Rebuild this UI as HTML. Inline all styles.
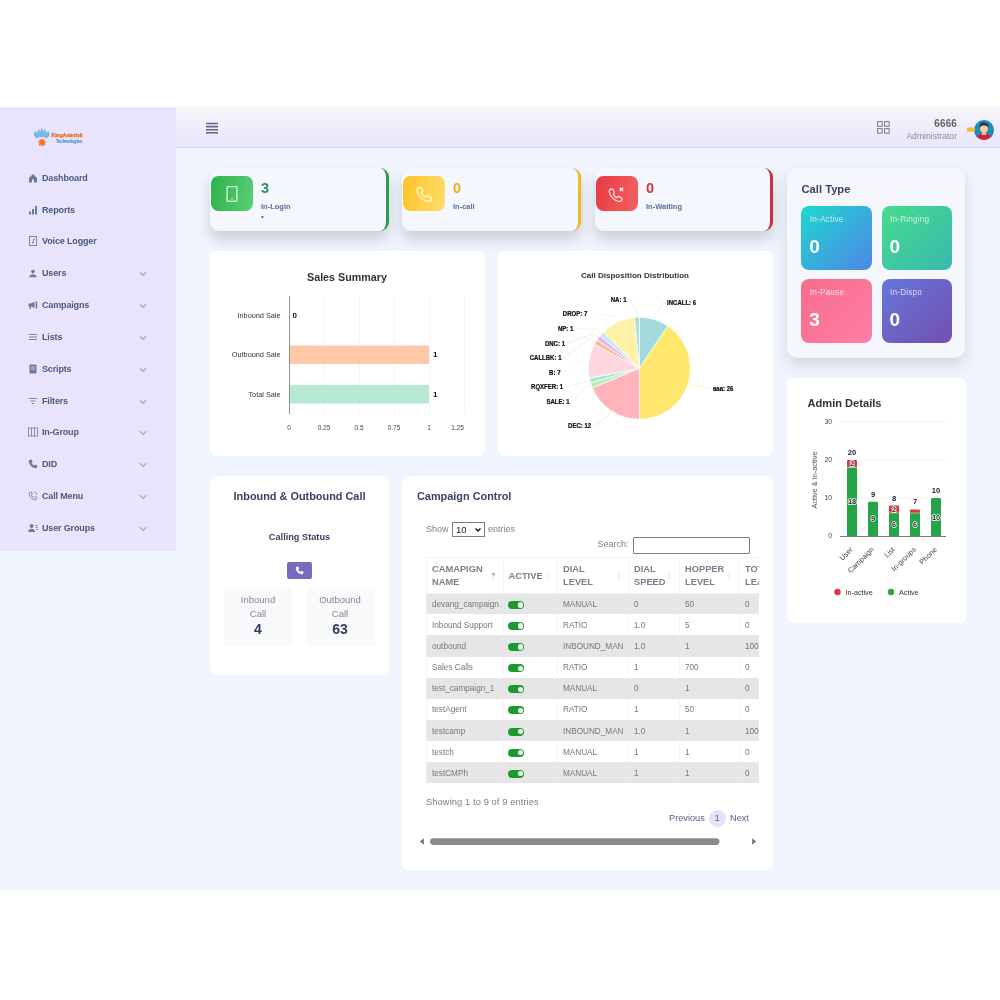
<!DOCTYPE html>
<html lang="en">
<head>
<meta charset="utf-8">
<title>Dashboard</title>
<style>
*{box-sizing:border-box;margin:0;padding:0}
html,body{width:1000px;height:1000px;background:#fff;overflow:hidden}
body{font-family:"Liberation Sans",sans-serif;color:#4a5578;position:relative}
#app{position:absolute;left:0;top:107px;width:1000px;height:784px;background:#f1f5fe;overflow:hidden}
.t{position:absolute;white-space:nowrap;line-height:1}
#side{position:absolute;left:0;top:0;width:176px;height:443.5px;background:#e9e4fe}
#hdr{position:absolute;left:176px;top:0;width:824px;height:41px;background:linear-gradient(#f6f5fb,#e9e5fc);border-bottom:1px solid #dcd9ee}
.mi{position:absolute;left:0;width:176px;height:14px;font-size:9px;line-height:14px;font-weight:bold;color:#4d587c;letter-spacing:-0.15px}
.mi span{position:absolute;left:42px;top:0;white-space:nowrap}
.mi svg.ic{position:absolute;left:28px;top:2px;width:10px;height:10px}
.mi svg.ch{position:absolute;left:138.5px;top:4.6px;width:8px;height:5.7px}
.card{position:absolute;background:#fff;border-radius:6px}
.stat{position:absolute;top:61px;height:63px;width:179px;background:#f4f7fe;border-radius:9px;box-shadow:0 9px 14px rgba(115,122,140,.3)}
.stat .ib{position:absolute;left:1px;top:8px;width:42px;height:35px;border-radius:7.5px}
.stat .ib svg{position:absolute;left:12.5px;top:9.5px;width:17px;height:17px}
.stat .n{position:absolute;left:51px;top:12px;font-size:14.5px;line-height:16px;font-weight:bold}
.stat .l{position:absolute;left:51px;top:33.6px;font-size:7.5px;line-height:10px;font-weight:bold;color:#5b6b9c;white-space:nowrap}
.tile{position:absolute;width:70.5px;height:64px;border-radius:8px;color:#fff}
.tile .tl{position:absolute;left:8.5px;top:9px;font-size:8.2px;line-height:10px;white-space:nowrap;opacity:.75;letter-spacing:0.2px}
.tile .tn{position:absolute;left:8px;top:30.5px;font-size:19px;line-height:20px;font-weight:bold}
svg{overflow:visible}
svg text{font-family:"Liberation Sans",sans-serif}
.ttl{position:absolute;white-space:nowrap;font-weight:bold;font-size:10.9px;line-height:14px;color:#3a4264}
table.dt{position:absolute;left:0;top:0;border-collapse:collapse;font-size:8.2px;color:#777;table-layout:fixed;width:372px}
table.dt th{height:35.7px;text-align:left;font-weight:bold;color:#7b7f8b;font-size:9.3px;line-height:13px;padding:1.4px 5px 0 5px;border:1px solid #f3f3f6;background:#fff;position:relative;vertical-align:middle;letter-spacing:0}
table.dt td{height:21.12px;padding:2.6px 5px 0 5px;border-left:1px solid #f4f4f6;border-right:1px solid #f4f4f6;white-space:nowrap;overflow:hidden}
table.dt tr.o td{background:#e6e6e7;border-color:#eaeaeb}
table.dt tr.e td{background:#fff}
.tg{display:inline-block;width:16px;height:8px;border-radius:4px;background:#1c9a30;position:relative;vertical-align:middle;margin-left:-0.5px}
.tg i{position:absolute;right:0.8px;top:1.4px;width:5.2px;height:5.2px;border-radius:3px;background:#fff}
.srt{position:absolute;right:7px;top:12.5px;width:5px;height:10px}
</style>
</head>
<body>
<div id="app">
<div id="side">
<svg class="t" style="left:32px;top:18px" width="54" height="24" viewBox="0 0 54 24">
<path d="M1.6 9.5 L3 5.8 L5 8 L6.6 3.6 L8.2 7 L9.8 2 L11.4 7 L13 3.6 L14.6 8 L16.4 5.8 L17.6 9.5 C17 11.6 15.6 13 14 13.4 C12 11.6 7.4 11.6 5.4 13.4 C3.6 13 2.2 11.6 1.6 9.5 Z" fill="#7ab8e4"/>
<path d="M10 13.6 V21.2 M6.2 17.4 H13.8 M7.3 14.7 L12.7 20.1 M12.7 14.7 L7.3 20.1" stroke="#f36f1c" stroke-width="1.5" fill="none"/>
<text x="19.6" y="12.3" font-size="5.6" font-weight="bold" fill="#e36d14" stroke="#e36d14" stroke-width="0.25" textLength="31" lengthAdjust="spacingAndGlyphs">KingAsterisk</text>
<text x="24" y="17.6" font-size="4.6" font-weight="bold" fill="#4a8fc6" stroke="#4a8fc6" stroke-width="0.15" textLength="26.4" lengthAdjust="spacingAndGlyphs">Technologies</text>
</svg>
<div class="mi" style="top:64.0px"><svg class="ic" viewBox="0 0 10 10"><path d="M1 5 L5 1 L9 5 V9.5 H6 V6.5 H4 V9.5 H1 Z" fill="#6d7aa3"/></svg><span>Dashboard</span></div>
<div class="mi" style="top:96.0px"><svg class="ic" viewBox="0 0 10 10"><rect x="1" y="6.5" width="2" height="3" fill="#6d7aa3"/><rect x="4" y="4" width="2" height="5.5" fill="#6d7aa3"/><rect x="7" y="1" width="2" height="8.5" fill="#6d7aa3"/></svg><span>Reports</span></div>
<div class="mi" style="top:127.0px"><svg class="ic" viewBox="0 0 10 10"><rect x="1.5" y="0.5" width="7" height="9" fill="none" stroke="#6d7aa3" stroke-width="0.9"/><path d="M5.5 3 V6.5 M5.5 3 L6.8 3.6" stroke="#6d7aa3" stroke-width="0.8" fill="none"/><circle cx="4.7" cy="6.6" r="0.9" fill="#6d7aa3"/></svg><span>Voice Logger</span></div>
<div class="mi" style="top:159.0px"><svg class="ic" viewBox="0 0 10 10"><circle cx="5" cy="3.6" r="1.8" fill="#6d7aa3"/><path d="M1.4 9.2 C1.4 7 3.2 6.2 5 6.2 C6.8 6.2 8.6 7 8.6 9.2 Z" fill="#6d7aa3"/></svg><span>Users</span><svg class="ch" viewBox="0 0 7 5"><path d="M0.8 1 L3.5 3.8 L6.2 1" fill="none" stroke="#a5a4c6" stroke-width="1.05"/></svg></div>
<div class="mi" style="top:191.0px"><svg class="ic" viewBox="0 0 10 10"><path d="M0.5 3.5 H3 L6.5 1.5 V8 L3 6.5 H0.5 Z" fill="#6d7aa3"/><rect x="7.6" y="1.5" width="1.6" height="7" fill="#6d7aa3"/><rect x="1.5" y="6.5" width="1.5" height="2.5" fill="#6d7aa3"/></svg><span>Campaigns</span><svg class="ch" viewBox="0 0 7 5"><path d="M0.8 1 L3.5 3.8 L6.2 1" fill="none" stroke="#a5a4c6" stroke-width="1.05"/></svg></div>
<div class="mi" style="top:223.0px"><svg class="ic" viewBox="0 0 10 10"><path d="M1 2.5 H9 M1 5 H9 M1 7.5 H9" stroke="#6d7aa3" stroke-width="0.9"/></svg><span>Lists</span><svg class="ch" viewBox="0 0 7 5"><path d="M0.8 1 L3.5 3.8 L6.2 1" fill="none" stroke="#a5a4c6" stroke-width="1.05"/></svg></div>
<div class="mi" style="top:255.0px"><svg class="ic" viewBox="0 0 10 10"><rect x="1.5" y="0.5" width="7" height="9" rx="1" fill="#6d7aa3"/><path d="M3 3 H7 M3 5 H7" stroke="#e9e4fe" stroke-width="0.8"/></svg><span>Scripts</span><svg class="ch" viewBox="0 0 7 5"><path d="M0.8 1 L3.5 3.8 L6.2 1" fill="none" stroke="#a5a4c6" stroke-width="1.05"/></svg></div>
<div class="mi" style="top:287.0px"><svg class="ic" viewBox="0 0 10 10"><path d="M1 2.5 H9 M2.5 5 H7.5 M4 7.5 H6" stroke="#6d7aa3" stroke-width="0.9"/></svg><span>Filters</span><svg class="ch" viewBox="0 0 7 5"><path d="M0.8 1 L3.5 3.8 L6.2 1" fill="none" stroke="#a5a4c6" stroke-width="1.05"/></svg></div>
<div class="mi" style="top:318.0px"><svg class="ic" viewBox="0 0 10 10"><rect x="0.5" y="1" width="9" height="8" fill="none" stroke="#6d7aa3" stroke-width="0.8"/><path d="M3.5 1 V9 M6.5 1 V9" stroke="#6d7aa3" stroke-width="0.8"/></svg><span>In-Group</span><svg class="ch" viewBox="0 0 7 5"><path d="M0.8 1 L3.5 3.8 L6.2 1" fill="none" stroke="#a5a4c6" stroke-width="1.05"/></svg></div>
<div class="mi" style="top:350.0px"><svg class="ic" viewBox="0 0 10 10"><path d="M2.2 0.8 L3.8 0.6 L4.6 3 L3.5 3.8 C4 5 5 6 6.2 6.5 L7 5.4 L9.4 6.2 L9.2 7.8 C9 8.8 8.2 9.4 7.2 9.2 C3.8 8.6 1.4 6.2 0.8 2.8 C0.6 1.8 1.2 1 2.2 0.8 Z" fill="#6d7aa3"/></svg><span>DID</span><svg class="ch" viewBox="0 0 7 5"><path d="M0.8 1 L3.5 3.8 L6.2 1" fill="none" stroke="#a5a4c6" stroke-width="1.05"/></svg></div>
<div class="mi" style="top:382.0px"><svg class="ic" viewBox="0 0 10 10"><path d="M2.2 1.2 L3.6 1 L4.3 3 L3.3 3.9 C3.8 5.1 4.9 6.2 6.1 6.7 L7 5.7 L9 6.4 L8.8 7.8 C8.6 8.6 8 9 7.2 8.9 C4 8.4 1.6 6 1.1 2.8 C1 2 1.4 1.4 2.2 1.2 Z" fill="none" stroke="#6d7aa3" stroke-width="0.8"/><path d="M6 1 C7.6 1 9 2.4 9 4" fill="none" stroke="#6d7aa3" stroke-width="0.7"/></svg><span>Call Menu</span><svg class="ch" viewBox="0 0 7 5"><path d="M0.8 1 L3.5 3.8 L6.2 1" fill="none" stroke="#a5a4c6" stroke-width="1.05"/></svg></div>
<div class="mi" style="top:414.0px"><svg class="ic" viewBox="0 0 10 10"><circle cx="3.6" cy="3" r="1.9" fill="#6d7aa3"/><path d="M0.2 9 C0.2 6.6 1.8 5.8 3.6 5.8 C5.4 5.8 7 6.6 7 9 Z" fill="#6d7aa3"/><path d="M7.2 2.5 H9.8 M7.6 4.5 H9.8 M8 6.5 H9.8" stroke="#6d7aa3" stroke-width="0.8"/></svg><span>User Groups</span><svg class="ch" viewBox="0 0 7 5"><path d="M0.8 1 L3.5 3.8 L6.2 1" fill="none" stroke="#a5a4c6" stroke-width="1.05"/></svg></div>
</div>
<div id="hdr">
<svg class="t" style="left:30px;top:14.5px" width="12" height="12" viewBox="0 0 12 12"><path d="M0 1.5 H12 M0 4.6 H12 M0 7.7 H12 M0 10.8 H12" stroke="#5d678f" stroke-width="1.6"/></svg>
<svg class="t" style="left:701px;top:14px" width="13" height="13" viewBox="0 0 13 13"><rect x="0.6" y="0.6" width="4.6" height="4.6" fill="none" stroke="#777a88" stroke-width="1"/><rect x="7.6" y="0.6" width="4.6" height="4.6" fill="none" stroke="#777a88" stroke-width="1"/><rect x="0.6" y="7.6" width="4.6" height="4.6" fill="none" stroke="#777a88" stroke-width="1"/><rect x="7.6" y="7.6" width="4.6" height="4.6" fill="none" stroke="#777a88" stroke-width="1"/></svg>
<div class="t" style="right:43px;top:11.5px;font-size:10px;font-weight:bold;color:#5f6474;letter-spacing:0.1px">6666</div>
<div class="t" style="right:43px;top:24.5px;font-size:8.6px;color:#8a8e9c;letter-spacing:0">Administrator</div>
<svg class="t" style="left:790px;top:12px" width="30" height="22" viewBox="0 0 30 22">
<defs><clipPath id="av"><circle cx="18" cy="11" r="10"/></clipPath></defs>
<circle cx="18" cy="11" r="10" fill="#1a8fb5"/>
<g clip-path="url(#av)"><path d="M9 22 C9 16 13 15 18 15 C23 15 27 16 27 22 Z" fill="#d8203f"/><rect x="16" y="12" width="4" height="4" fill="#f0b48c"/><ellipse cx="18" cy="9.5" rx="4" ry="4.6" fill="#f7c9a4"/><path d="M13.6 9 C13 4 16 3.2 18.5 3.4 C22 3.6 23 6 22.4 9 C21.5 7 20 6.4 17.5 6.6 C15.5 6.8 14.4 7.4 13.6 9 Z" fill="#2a3358"/></g>
<path d="M1 8.5 H8 L9.5 10.5 L8 12.5 H1 Z" fill="#f5b81f"/>
</svg>
</div>
<div class="stat" style="left:210px;width:179px;border-right:3px solid #2d9e46">
<div class="ib" style="background:linear-gradient(100deg,#2db24a,#5ccd78)"><svg viewBox="0 0 16 16" style="left:13px;top:9.5px;width:16px;height:16px"><rect x="3.1" y="0.7" width="9.8" height="14.6" rx="0.8" fill="none" stroke="#d6ffd9" stroke-width="1.3"/><circle cx="8" cy="12.7" r="0.8" fill="#eaffea"/></svg></div>
<div class="n" style="color:#2e8b62">3</div><div class="l">In-Login</div><div class="t" style="left:51px;top:45px;font-size:8px;font-weight:bold;color:#5b6b9c">•</div></div>
<div class="stat" style="left:402px;width:179px;border-right:3px solid #f0bc1c">
<div class="ib" style="background:linear-gradient(100deg,#ffc326,#ffdc6a)"><svg viewBox="0 0 16 16" style="left:12.6px;top:10px;width:16.5px;height:16.5px"><path d="M3.4 1.3 C2.2 1.6 0.9 3 1.1 4.5 C1.7 9.4 6.6 14.3 11.5 14.9 C13 15.1 14.4 13.8 14.7 12.6 C14.9 11.9 14.6 11.3 13.9 10.9 L11.7 9.7 C11.1 9.4 10.4 9.5 9.9 10 L9.1 10.8 C7.5 10 6 8.5 5.2 6.9 L6 6.1 C6.5 5.6 6.6 4.9 6.3 4.3 L5.1 2.1 C4.7 1.4 4.1 1.1 3.4 1.3 Z" fill="none" stroke="#fffbc8" stroke-width="1.35" stroke-linejoin="round"/></svg></div>
<div class="n" style="color:#f0b014">0</div><div class="l">In-call</div></div>
<div class="stat" style="left:595px;width:178px;border-right:3px solid #c8333c">
<div class="ib" style="background:linear-gradient(100deg,#e93a46,#f2615f)"><svg viewBox="0 0 16 16" style="left:11.8px;top:10px;width:16.5px;height:16.5px"><path d="M3.4 1.3 C2.2 1.6 0.9 3 1.1 4.5 C1.7 9.4 6.6 14.3 11.5 14.9 C13 15.1 14.4 13.8 14.7 12.6 C14.9 11.9 14.6 11.3 13.9 10.9 L11.7 9.7 C11.1 9.4 10.4 9.5 9.9 10 L9.1 10.8 C7.5 10 6 8.5 5.2 6.9 L6 6.1 C6.5 5.6 6.6 4.9 6.3 4.3 L5.1 2.1 C4.7 1.4 4.1 1.1 3.4 1.3 Z" fill="none" stroke="#ffecec" stroke-width="1.3" stroke-linejoin="round" transform="translate(0.3,1.6) scale(0.9)"/><path d="M11.4 1.6 L14.6 4.8 M14.6 1.6 L11.4 4.8" stroke="#ffecec" stroke-width="1.4"/></svg></div>
<div class="n" style="color:#d63348">0</div><div class="l">In-Waiting</div></div>

<div class="t" style="left:787px;top:61px;width:178px;height:190px;background:#f5f7fd;border-radius:10px;box-shadow:0 7px 16px rgba(115,122,140,.26)">
<div class="ttl" style="left:14.5px;top:14px;font-size:11.2px;letter-spacing:0">Call Type</div>
<div class="tile" style="left:14.3px;top:38px;background:linear-gradient(135deg,#1fd8cc,#4d86e8)"><div class="tl">In-Active</div><div class="tn">0</div></div>
<div class="tile" style="left:94.5px;top:38px;background:linear-gradient(135deg,#45dc8c,#3ab8b0)"><div class="tl">In-Ringing</div><div class="tn">0</div></div>
<div class="tile" style="left:14.3px;top:111px;background:linear-gradient(135deg,#f76c8c,#ff7fa3)"><div class="tl">In-Pause</div><div class="tn">3</div></div>
<div class="tile" style="left:94.5px;top:111px;background:linear-gradient(135deg,#6675dd,#7350ae)"><div class="tl">In-Dispo</div><div class="tn">0</div></div>
</div>
<div class="card" style="left:210px;top:144px;width:275px;height:205px"><svg class="t" style="left:0;top:0" width="275" height="205" viewBox="0 0 275 205"><text x="137" y="30" font-size="11" font-weight="bold" fill="#333" text-anchor="middle" textLength="80" lengthAdjust="spacingAndGlyphs">Sales Summary</text><text x="79" y="178.5" font-size="6.5" fill="#444" text-anchor="middle">0</text><line x1="114.5" y1="45" x2="114.5" y2="163" stroke="#f5f5f7" stroke-width="1"/><text x="114" y="178.5" font-size="6.5" fill="#444" text-anchor="middle">0.25</text><line x1="149.5" y1="45" x2="149.5" y2="163" stroke="#f5f5f7" stroke-width="1"/><text x="149" y="178.5" font-size="6.5" fill="#444" text-anchor="middle">0.5</text><line x1="184.5" y1="45" x2="184.5" y2="163" stroke="#f5f5f7" stroke-width="1"/><text x="184" y="178.5" font-size="6.5" fill="#444" text-anchor="middle">0.75</text><line x1="219.5" y1="45" x2="219.5" y2="163" stroke="#f5f5f7" stroke-width="1"/><text x="219" y="178.5" font-size="6.5" fill="#444" text-anchor="middle">1</text><line x1="254.5" y1="45" x2="254.5" y2="163" stroke="#f5f5f7" stroke-width="1"/><text x="247.5" y="178.5" font-size="6.5" fill="#444" text-anchor="middle">1.25</text><line x1="79.5" y1="45" x2="79.5" y2="163" stroke="#8a8a8a" stroke-width="0.9"/><text x="70.5" y="66.7" font-size="7.3" fill="#333" text-anchor="end">Inbound Sale</text><text x="82.5" y="66.8" font-size="8" font-weight="bold" fill="#111">0</text><text x="70.5" y="106.1" font-size="7.3" fill="#333" text-anchor="end">Outbound Sale</text><rect x="80" y="94.5" width="139" height="18.6" fill="#ffc9a8"/><text x="223" y="106.2" font-size="8" font-weight="bold" fill="#111">1</text><text x="70.5" y="145.5" font-size="7.3" fill="#333" text-anchor="end">Total Sale</text><rect x="80" y="133.9" width="139" height="18.6" fill="#b6e8d4"/><text x="223" y="145.6" font-size="8" font-weight="bold" fill="#111">1</text></svg></div>
<div class="card" style="left:498px;top:144px;width:275px;height:205px"><svg class="t" style="left:0;top:0" width="275" height="205" viewBox="0 0 275 205"><text x="137" y="26.5" font-size="8" font-weight="bold" fill="#333" text-anchor="middle" textLength="108" lengthAdjust="spacingAndGlyphs">Call Disposition Distribution</text><path d="M156.2 68.5 L158.2 61.8 L166.0 51.0" fill="none" stroke="#a2d9dc" stroke-width="0.7" opacity="0.55"/><path d="M190.2 132.1 L196.9 134.1 L212.0 137.0" fill="none" stroke="#ffe66d" stroke-width="0.7" opacity="0.55"/><path d="M113.1 159.7 L109.2 165.5 L96.2 174.5" fill="none" stroke="#ffb3ba" stroke-width="0.7" opacity="0.55"/><path d="M93.4 134.5 L86.8 136.8 L74.5 150.0" fill="none" stroke="#b4f0a7" stroke-width="0.7" opacity="0.55"/><path d="M91.9 129.7 L85.1 131.4 L68.2 135.4" fill="none" stroke="#a9e5e0" stroke-width="0.7" opacity="0.55"/><path d="M91.0 109.8 L84.0 108.8 L65.5 121.5" fill="none" stroke="#ffd6dd" stroke-width="0.7" opacity="0.55"/><path d="M97.7 91.1 L91.7 87.5 L66.5 106.7" fill="none" stroke="#ffb79b" stroke-width="0.7" opacity="0.55"/><path d="M100.4 86.9 L94.8 82.7 L70.0 92.2" fill="none" stroke="#dcb8f0" stroke-width="0.7" opacity="0.55"/><path d="M103.6 83.1 L98.4 78.3 L78.3 77.3" fill="none" stroke="#c6e6ff" stroke-width="0.7" opacity="0.55"/><path d="M119.6 71.2 L116.6 64.9 L92.3 62.4" fill="none" stroke="#fff2a6" stroke-width="0.7" opacity="0.55"/><path d="M138.9 66.4 L138.6 59.4 L131.5 48.0" fill="none" stroke="#a8dfd6" stroke-width="0.7" opacity="0.55"/><path d="M141.4 117.3 L141.40 66.30 A51 51 0 0 1 169.73 74.90 Z" fill="#a2d9dc" stroke="#fff" stroke-width="0.7"/><path d="M141.4 117.3 L169.73 74.90 A51 51 0 0 1 141.40 168.30 Z" fill="#ffe66d" stroke="#fff" stroke-width="0.7"/><path d="M141.4 117.3 L141.40 168.30 A51 51 0 0 1 94.28 136.82 Z" fill="#ffb3ba" stroke="#fff" stroke-width="0.7"/><path d="M141.4 117.3 L94.28 136.82 A51 51 0 0 1 92.60 132.10 Z" fill="#b4f0a7" stroke="#fff" stroke-width="0.7"/><path d="M141.4 117.3 L92.60 132.10 A51 51 0 0 1 91.38 127.25 Z" fill="#a9e5e0" stroke="#fff" stroke-width="0.7"/><path d="M141.4 117.3 L91.38 127.25 A51 51 0 0 1 96.42 93.26 Z" fill="#ffd6dd" stroke="#fff" stroke-width="0.7"/><path d="M141.4 117.3 L96.42 93.26 A51 51 0 0 1 99.00 88.97 Z" fill="#ffb79b" stroke="#fff" stroke-width="0.7"/><path d="M141.4 117.3 L99.00 88.97 A51 51 0 0 1 101.98 84.95 Z" fill="#dcb8f0" stroke="#fff" stroke-width="0.7"/><path d="M141.4 117.3 L101.98 84.95 A51 51 0 0 1 105.34 81.24 Z" fill="#c6e6ff" stroke="#fff" stroke-width="0.7"/><path d="M141.4 117.3 L105.34 81.24 A51 51 0 0 1 136.40 66.55 Z" fill="#fff2a6" stroke="#fff" stroke-width="0.7"/><path d="M141.4 117.3 L136.40 66.55 A51 51 0 0 1 141.40 66.30 Z" fill="#a8dfd6" stroke="#fff" stroke-width="0.7"/><g transform="translate(169.0,53.5) scale(0.85,1)"><text x="0" y="0" font-size="7.1" font-weight="bold" fill="#111" stroke="#111" stroke-width="0.25" text-anchor="start">INCALL: 6</text></g><g transform="translate(215.0,139.5) scale(0.85,1)"><text x="0" y="0" font-size="7.1" font-weight="bold" fill="#111" stroke="#111" stroke-width="0.25" text-anchor="start">aaa: 26</text></g><g transform="translate(93.2,177.0) scale(0.85,1)"><text x="0" y="0" font-size="7.1" font-weight="bold" fill="#111" stroke="#111" stroke-width="0.25" text-anchor="end">DEC: 12</text></g><g transform="translate(71.5,152.5) scale(0.85,1)"><text x="0" y="0" font-size="7.1" font-weight="bold" fill="#111" stroke="#111" stroke-width="0.25" text-anchor="end">SALE: 1</text></g><g transform="translate(65.2,137.9) scale(0.85,1)"><text x="0" y="0" font-size="7.1" font-weight="bold" fill="#111" stroke="#111" stroke-width="0.25" text-anchor="end">RQXFER: 1</text></g><g transform="translate(62.5,124.0) scale(0.85,1)"><text x="0" y="0" font-size="7.1" font-weight="bold" fill="#111" stroke="#111" stroke-width="0.25" text-anchor="end">B: 7</text></g><g transform="translate(63.5,109.2) scale(0.85,1)"><text x="0" y="0" font-size="7.1" font-weight="bold" fill="#111" stroke="#111" stroke-width="0.25" text-anchor="end">CALLBK: 1</text></g><g transform="translate(67.0,94.7) scale(0.85,1)"><text x="0" y="0" font-size="7.1" font-weight="bold" fill="#111" stroke="#111" stroke-width="0.25" text-anchor="end">DNC: 1</text></g><g transform="translate(75.3,79.8) scale(0.85,1)"><text x="0" y="0" font-size="7.1" font-weight="bold" fill="#111" stroke="#111" stroke-width="0.25" text-anchor="end">NP: 1</text></g><g transform="translate(89.3,64.9) scale(0.85,1)"><text x="0" y="0" font-size="7.1" font-weight="bold" fill="#111" stroke="#111" stroke-width="0.25" text-anchor="end">DROP: 7</text></g><g transform="translate(128.5,50.5) scale(0.85,1)"><text x="0" y="0" font-size="7.1" font-weight="bold" fill="#111" stroke="#111" stroke-width="0.25" text-anchor="end">NA: 1</text></g></svg></div>
<div class="card" style="left:787px;top:271px;width:179px;height:245px"><svg class="t" style="left:0;top:0" width="179" height="245" viewBox="0 0 179 245"><text x="20.5" y="28.8" font-size="11" font-weight="bold" fill="#333" textLength="74" lengthAdjust="spacingAndGlyphs">Admin Details</text><text x="45" y="159.5" font-size="6.8" fill="#444" text-anchor="end">0</text><line x1="53" y1="120.0" x2="159" y2="120.0" stroke="#f4f4f6" stroke-width="1"/><text x="45" y="121.5" font-size="6.8" fill="#444" text-anchor="end">10</text><line x1="53" y1="82.0" x2="159" y2="82.0" stroke="#f4f4f6" stroke-width="1"/><text x="45" y="83.5" font-size="6.8" fill="#444" text-anchor="end">20</text><line x1="53" y1="44.0" x2="159" y2="44.0" stroke="#f4f4f6" stroke-width="1"/><text x="45" y="45.5" font-size="6.8" fill="#444" text-anchor="end">30</text><line x1="53" y1="158.5" x2="159" y2="158.5" stroke="#777" stroke-width="1"/><text transform="translate(30.299999999999955,102) rotate(-90)" font-size="7.4" fill="#555" text-anchor="middle">Active &amp; In-active</text><rect x="60" y="89.6" width="10" height="68.4" fill="#25a548"/><path d="M60 89.1 V83.2 Q60 82.0 61.2 82.0 H68.8 Q70 82.0 70 83.2 V89.1 Z" fill="#dc3545"/><text x="65" y="88.3" font-size="7.4" font-weight="bold" fill="#222" text-anchor="middle" stroke="#fff" stroke-width="1.5" stroke-linejoin="round" paint-order="stroke">2</text><text x="65" y="126.3" font-size="7.4" font-weight="bold" fill="#222" text-anchor="middle" stroke="#fff" stroke-width="1.5" stroke-linejoin="round" paint-order="stroke">18</text><text x="65" y="77.0" font-size="7.6" font-weight="bold" fill="#1b1b2b" text-anchor="middle">20</text><text transform="translate(66.3,172) rotate(-45)" font-size="7.3" fill="#444" text-anchor="end">User</text><path d="M81 158 V125.0 Q81 123.8 82.2 123.8 H89.8 Q91 123.8 91 125.0 V158 Z" fill="#25a548"/><text x="86" y="143.4" font-size="7.4" font-weight="bold" fill="#222" text-anchor="middle" stroke="#fff" stroke-width="1.5" stroke-linejoin="round" paint-order="stroke">9</text><text x="86" y="118.8" font-size="7.6" font-weight="bold" fill="#1b1b2b" text-anchor="middle">9</text><text transform="translate(87.3,172) rotate(-45)" font-size="7.3" fill="#444" text-anchor="end">Campaign</text><rect x="102" y="135.2" width="10" height="22.8" fill="#25a548"/><path d="M102 134.7 V128.8 Q102 127.6 103.2 127.6 H110.8 Q112 127.6 112 128.8 V134.7 Z" fill="#dc3545"/><text x="107" y="133.9" font-size="7.4" font-weight="bold" fill="#222" text-anchor="middle" stroke="#fff" stroke-width="1.5" stroke-linejoin="round" paint-order="stroke">2</text><text x="107" y="149.1" font-size="7.4" font-weight="bold" fill="#222" text-anchor="middle" stroke="#fff" stroke-width="1.5" stroke-linejoin="round" paint-order="stroke">6</text><text x="107" y="122.6" font-size="7.6" font-weight="bold" fill="#1b1b2b" text-anchor="middle">8</text><text transform="translate(108.3,172) rotate(-45)" font-size="7.3" fill="#444" text-anchor="end">List</text><rect x="123" y="135.2" width="10" height="22.8" fill="#25a548"/><path d="M123 134.7 V132.6 Q123 131.4 124.2 131.4 H131.8 Q133 131.4 133 132.6 V134.7 Z" fill="#dc3545"/><text x="128" y="149.1" font-size="7.4" font-weight="bold" fill="#222" text-anchor="middle" stroke="#fff" stroke-width="1.5" stroke-linejoin="round" paint-order="stroke">6</text><text x="128" y="126.4" font-size="7.6" font-weight="bold" fill="#1b1b2b" text-anchor="middle">7</text><text transform="translate(129.3,172) rotate(-45)" font-size="7.3" fill="#444" text-anchor="end">In-groups</text><path d="M144 158 V121.2 Q144 120.0 145.2 120.0 H152.8 Q154 120.0 154 121.2 V158 Z" fill="#25a548"/><text x="149" y="141.5" font-size="7.4" font-weight="bold" fill="#222" text-anchor="middle" stroke="#fff" stroke-width="1.5" stroke-linejoin="round" paint-order="stroke">10</text><text x="149" y="115.0" font-size="7.6" font-weight="bold" fill="#1b1b2b" text-anchor="middle">10</text><text transform="translate(150.3,172) rotate(-45)" font-size="7.3" fill="#444" text-anchor="end">Phone</text><circle cx="50.5" cy="214" r="3.2" fill="#dc3545"/><text x="58.5" y="216.5" font-size="7.2" fill="#333">In-active</text><circle cx="104" cy="214" r="3.2" fill="#28a745"/><text x="112" y="216.5" font-size="7.2" fill="#333">Active</text></svg></div>
<div class="card" style="left:210px;top:369px;width:179px;height:199px">
<div class="ttl" style="left:0;width:179px;text-align:center;top:13px">Inbound &amp; Outbound Call</div>
<div class="ttl" style="left:0;width:179px;text-align:center;top:53.5px;font-size:9.2px">Calling Status</div>
<div class="t" style="left:77px;top:86px;width:25px;height:17px;border-radius:2px;background:#7869c4"><svg class="t" style="left:8px;top:4px" width="9" height="9" viewBox="0 0 10 10"><path d="M2.2 0.8 L3.8 0.6 L4.6 3 L3.5 3.8 C4 5 5 6 6.2 6.5 L7 5.4 L9.4 6.2 L9.2 7.8 C9 8.8 8.2 9.4 7.2 9.2 C3.8 8.6 1.4 6.2 0.8 2.8 C0.6 1.8 1.2 1 2.2 0.8 Z" fill="#fff"/></svg></div>
<div class="t" style="left:14px;top:113px;width:68px;height:57px;background:#f8f9fb"></div>
<div class="t" style="left:96.5px;top:113px;width:68px;height:57px;background:#f8f9fb"></div>
<div class="t" style="left:14px;width:68px;text-align:center;top:117px;font-size:9.5px;line-height:14px;color:#858794;white-space:normal">Inbound<br>Call</div>
<div class="t" style="left:96px;width:68px;text-align:center;top:117px;font-size:9.5px;line-height:14px;color:#858794;white-space:normal">Outbound<br>Call</div>
<div class="t" style="left:14px;width:68px;text-align:center;top:146px;font-size:14px;font-weight:bold;color:#343d63">4</div>
<div class="t" style="left:96px;width:68px;text-align:center;top:146px;font-size:14px;font-weight:bold;color:#343d63">63</div>
</div>
<div class="card" style="left:402px;top:369px;width:371px;height:394px"><div class="ttl" style="left:15px;top:13px">Campaign Control</div><div class="t" style="left:24px;top:49px;font-size:9px;color:#7a7d8a">Show</div><div class="t" style="left:50px;top:46px;width:33px;height:14.5px;border:1px solid #7d7d7d;background:#fff;font-size:9.5px;color:#222;padding:1.5px 0 0 3px">10<svg class="t" style="right:3.5px;top:4.5px" width="6" height="4" viewBox="0 0 6 4"><path d="M0.5 0.5 L3 3 L5.5 0.5" fill="none" stroke="#111" stroke-width="1.4"/></svg></div><div class="t" style="left:86px;top:49px;font-size:9px;color:#7a7d8a">entries</div><div class="t" style="left:195.5px;top:64px;font-size:9px;color:#7a7d8a">Search:</div><div class="t" style="left:231px;top:61px;width:117px;height:17px;border:1px solid #7d7d7d;border-radius:1px;background:#fff"></div><div class="t" style="left:24px;top:81px;width:333px;height:228px;overflow:hidden"><table class="dt"><colgroup><col style="width:76.5px"><col style="width:54.5px"><col style="width:71px"><col style="width:51px"><col style="width:60px"><col style="width:59px"></colgroup><tr><th>CAMAPIGN<br>NAME<svg class="srt" viewBox="0 0 5 10"><path d="M2.5 1 L4.5 4.2 H0.5 Z" fill="#a8a8b0"/><path d="M2.5 9 L4.5 5.8 H0.5 Z" fill="#ececf0"/></svg></th><th>ACTIVE<svg class="srt" viewBox="0 0 5 10"><path d="M2.5 1 L4.5 4.2 H0.5 Z" fill="#ebebee"/><path d="M2.5 9 L4.5 5.8 H0.5 Z" fill="#ebebee"/></svg></th><th>DIAL<br>LEVEL<svg class="srt" viewBox="0 0 5 10"><path d="M2.5 1 L4.5 4.2 H0.5 Z" fill="#ebebee"/><path d="M2.5 9 L4.5 5.8 H0.5 Z" fill="#ebebee"/></svg></th><th>DIAL<br>SPEED<svg class="srt" viewBox="0 0 5 10"><path d="M2.5 1 L4.5 4.2 H0.5 Z" fill="#ebebee"/><path d="M2.5 9 L4.5 5.8 H0.5 Z" fill="#ebebee"/></svg></th><th>HOPPER<br>LEVEL<svg class="srt" viewBox="0 0 5 10"><path d="M2.5 1 L4.5 4.2 H0.5 Z" fill="#ebebee"/><path d="M2.5 9 L4.5 5.8 H0.5 Z" fill="#ebebee"/></svg></th><th>TOTAL<br>LEADS<svg class="srt" viewBox="0 0 5 10"><path d="M2.5 1 L4.5 4.2 H0.5 Z" fill="#ebebee"/><path d="M2.5 9 L4.5 5.8 H0.5 Z" fill="#ebebee"/></svg></th></tr><tr class="o"><td>devang_campaign</td><td><span class="tg"><i></i></span></td><td>MANUAL</td><td>0</td><td>50</td><td>0</td></tr><tr class="e"><td>Inbound Support</td><td><span class="tg"><i></i></span></td><td>RATIO</td><td>1.0</td><td>5</td><td>0</td></tr><tr class="o"><td>outbound</td><td><span class="tg"><i></i></span></td><td>INBOUND_MAN</td><td>1.0</td><td>1</td><td>100</td></tr><tr class="e"><td>Sales Calls</td><td><span class="tg"><i></i></span></td><td>RATIO</td><td>1</td><td>700</td><td>0</td></tr><tr class="o"><td>test_campaign_1</td><td><span class="tg"><i></i></span></td><td>MANUAL</td><td>0</td><td>1</td><td>0</td></tr><tr class="e"><td>testAgent</td><td><span class="tg"><i></i></span></td><td>RATIO</td><td>1</td><td>50</td><td>0</td></tr><tr class="o"><td>testcamp</td><td><span class="tg"><i></i></span></td><td>INBOUND_MAN</td><td>1.0</td><td>1</td><td>100</td></tr><tr class="e"><td>testch</td><td><span class="tg"><i></i></span></td><td>MANUAL</td><td>1</td><td>1</td><td>0</td></tr><tr class="o"><td>testCMPh</td><td><span class="tg"><i></i></span></td><td>MANUAL</td><td>1</td><td>1</td><td>0</td></tr></table></div><div class="t" style="left:24px;top:321.6px;font-size:9.3px;letter-spacing:0.1px;color:#7a7d8a">Showing 1 to 9 of 9 entries</div><div class="t" style="left:267px;top:338px;font-size:9.2px;color:#5b6286">Previous</div><div class="t" style="left:306.5px;top:334px;width:17px;height:17px;border-radius:9px;background:#e6e0fb;font-size:9.2px;color:#5b6286;text-align:center;line-height:17px">1</div><div class="t" style="left:328px;top:338px;font-size:9.2px;color:#5b6286">Next</div><svg class="t" style="left:14px;top:360px" width="345" height="10" viewBox="0 0 345 10"><path d="M7.8 2.2 V8.8 L4 5.5 Z" fill="#6e6e6e"/><path d="M336.2 2.2 V8.8 L340 5.5 Z" fill="#6e6e6e"/><rect x="14" y="2.2" width="289.5" height="6.8" rx="3.4" fill="#8a8a8a"/></svg></div>
</div>
</body>
</html>
